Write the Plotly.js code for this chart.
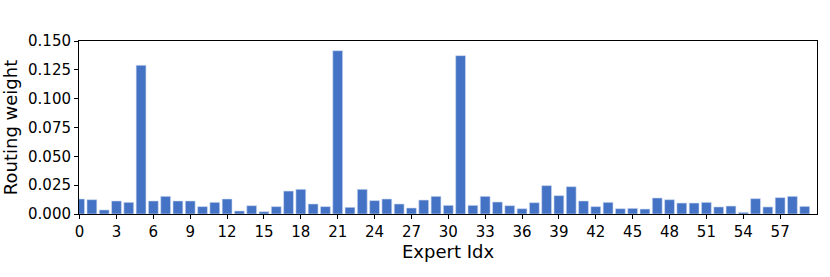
<!DOCTYPE html>
<html>
<head>
<meta charset="utf-8">
<script src="https://cdn.plot.ly/plotly-3.0.1.min.js"></script>
<style>html,body{margin:0;padding:0;background:#fff;}#chart{width:830px;height:277px;}</style>
</head>
<body>
<div id="chart"></div>
<script>
const expertIdx = Array.from({length: 60}, (_, i) => i);
const routingWeight = [
  0.0130, 0.0124, 0.0035, 0.0113, 0.0101, 0.1289, 0.0113, 0.0153, 0.0113, 0.0113,
  0.0064, 0.0101, 0.0130, 0.0026, 0.0072, 0.0020, 0.0064, 0.0199, 0.0214, 0.0087,
  0.0064, 0.1416, 0.0058, 0.0214, 0.0116, 0.0130, 0.0087, 0.0052, 0.0121, 0.0153,
  0.0075, 0.1373, 0.0075, 0.0153, 0.0104, 0.0072, 0.0046, 0.0098, 0.0246, 0.0159,
  0.0237, 0.0113, 0.0064, 0.0101, 0.0046, 0.0049, 0.0043, 0.0139, 0.0124, 0.0095,
  0.0095, 0.0101, 0.0061, 0.0069, 0.0014, 0.0133, 0.0061, 0.0142, 0.0153, 0.0066
];
const xTickVals = [0,3,6,9,12,15,18,21,24,27,30,33,36,39,42,45,48,51,54,57];
const yTickVals = [0, 0.025, 0.05, 0.075, 0.1, 0.125, 0.15];

const font = {family: 'DejaVu Sans, sans-serif', color: '#000'};
Plotly.newPlot('chart', [{
  type: 'bar',
  x: expertIdx,
  y: routingWeight,
  marker: {color: '#4472c4', line: {color: '#d0dcf2', width: 0.6}},
  hoverinfo: 'x+y'
}], {
  width: 830, height: 277,
  margin: {l: 79, r: 13, t: 41, b: 63},
  paper_bgcolor: '#fff', plot_bgcolor: '#fff',
  bargap: 0.2,
  showlegend: false,
  font: {family: font.family, size: 15, color: '#000'},
  xaxis: {
    range: [-0.05, 60],
    tickvals: xTickVals,
    ticks: 'outside', ticklen: 4, tickwidth: 1, tickcolor: '#000',
    showline: true, linecolor: '#000', linewidth: 1, mirror: true,
    showgrid: false, zeroline: false,
    tickfont: {family: font.family, size: 15, color: '#000'},
    title: {text: 'Expert Idx', font: {family: font.family, size: 18, color: '#000'}, standoff: 5}
  },
  yaxis: {
    range: [0, 0.15],
    tickvals: yTickVals,
    tickformat: '.3f',
    ticks: 'outside', ticklen: 4, tickwidth: 1, tickcolor: '#000',
    showline: true, linecolor: '#000', linewidth: 1, mirror: true,
    showgrid: false, zeroline: false,
    tickfont: {family: font.family, size: 15, color: '#000'},
    title: {text: 'Routing weight', font: {family: font.family, size: 18, color: '#000'}, standoff: 5}
  }
}, {staticPlot: true, displayModeBar: false});
</script>
</body>
</html>
